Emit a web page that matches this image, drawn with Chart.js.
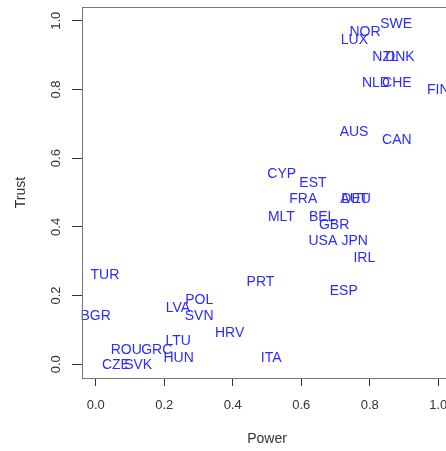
<!DOCTYPE html>
<html>
<head>
<meta charset="utf-8">
<script src="https://cdn.jsdelivr.net/npm/chart.js@4.4.0/dist/chart.umd.min.js"></script>
<style>
  html, body { margin: 0; padding: 0; background: #fff; overflow: hidden; }
  #wrap { width: 460px; height: 451px; }
</style>
</head>
<body>
<div id="wrap"><canvas id="plot" width="460" height="451"></canvas></div>
<script>
// Country codes and their power / trust scores
const countries = ["SWE", "NOR", "LUX", "NZL", "DNK", "NLD", "CHE", "FIN", "AUS", "CAN",
                   "CYP", "EST", "FRA", "AUT", "DEU", "MLT", "BEL", "GBR", "USA", "JPN",
                   "IRL", "PRT", "ESP", "TUR", "BGR", "POL", "LVA", "SVN", "HRV", "LTU",
                   "ROU", "GRC", "HUN", "ITA", "CZE", "SVK"];
const power = [0.877, 0.786, 0.755, 0.846, 0.888, 0.818, 0.879, 1.000, 0.754, 0.879,
               0.543, 0.634, 0.606, 0.755, 0.760, 0.542, 0.661, 0.696, 0.663, 0.756,
               0.784, 0.481, 0.724, 0.027, 0.000, 0.302, 0.240, 0.302, 0.391, 0.241,
               0.089, 0.178, 0.242, 0.512, 0.059, 0.124];
const trust = [0.994, 0.971, 0.947, 0.897, 0.897, 0.823, 0.823, 0.801, 0.678, 0.655,
               0.557, 0.531, 0.483, 0.483, 0.483, 0.433, 0.433, 0.408, 0.363, 0.363,
               0.311, 0.241, 0.215, 0.264, 0.143, 0.191, 0.166, 0.143, 0.093, 0.070,
               0.045, 0.045, 0.020, 0.020, 0.000, 0.000];
const tickValues = [0, 0.2, 0.4, 0.6, 0.8, 1.0];

const FONT = "'Liberation Sans', Arial, sans-serif";
const points = countries.map((c, i) => ({ x: power[i], y: trust[i] }));

// Country code written at each point, centred like R's text()
const codeLabels = {
    id: 'codeLabels',
    afterDatasetsDraw(chart) {
        const ctx = chart.ctx;
        const meta = chart.getDatasetMeta(0);
        ctx.save();
        ctx.font = '14px ' + FONT;
        ctx.fillStyle = '#2b2bff';
        ctx.textAlign = 'center';
        ctx.textBaseline = 'alphabetic';
        meta.data.forEach((el, i) => {
            ctx.fillText(countries[i], el.x, el.y + 5);
        });
        ctx.restore();
    }
};

// Plot frame and the rotated y tick labels
const frame = {
    id: 'frame',
    afterDraw(chart) {
        const ctx = chart.ctx;
        const a = chart.chartArea;
        const ys = chart.scales.y;
        ctx.save();
        ctx.strokeStyle = '#777';
        ctx.lineWidth = 1;
        ctx.strokeRect(a.left + 0.5, a.top + 0.5, a.right - a.left, a.bottom - a.top);
        ctx.font = '13px ' + FONT;
        ctx.fillStyle = '#333';
        ctx.textAlign = 'center';
        ctx.textBaseline = 'middle';
        tickValues.forEach(v => {
            const py = ys.getPixelForValue(v);
            ctx.save();
            ctx.translate(56, py);
            ctx.rotate(-Math.PI / 2);
            ctx.fillText(v.toFixed(1), 0, 0);
            ctx.restore();
        });
        ctx.restore();
    }
};

new Chart(document.getElementById('plot'), {
    type: 'scatter',
    data: {
        datasets: [{
            data: points,
            pointRadius: 0,
            pointHoverRadius: 0
        }]
    },
    options: {
        responsive: false,
        animation: false,
        devicePixelRatio: 1,
        layout: { padding: { top: 7, right: 8, left: 0, bottom: 0 } },
        plugins: { legend: { display: false }, tooltip: { enabled: false } },
        scales: {
            x: {
                type: 'linear',
                min: -0.04,
                max: 1.04,
                afterBuildTicks: s => { s.ticks = tickValues.map(v => ({ value: v })); },
                afterFit: s => { s.height = 73; },
                border: { display: false },
                grid: { drawOnChartArea: false, drawTicks: true, tickLength: 8, tickColor: '#333' },
                ticks: {
                    padding: 12,
                    color: '#333',
                    font: { family: FONT, size: 13 },
                    maxRotation: 0,
                    callback: v => v.toFixed(1)
                },
                title: {
                    display: true,
                    text: 'Power',
                    color: '#333',
                    font: { family: FONT, size: 14 },
                    padding: { top: 0, bottom: 3 }
                }
            },
            y: {
                type: 'linear',
                min: -0.04,
                max: 1.04,
                afterBuildTicks: s => { s.ticks = tickValues.map(v => ({ value: v })); },
                afterFit: s => { s.width = 82; },
                border: { display: false },
                grid: { drawOnChartArea: false, drawTicks: true, tickLength: 10, tickColor: '#333' },
                ticks: { display: false },
                title: {
                    display: true,
                    text: 'Trust',
                    color: '#333',
                    font: { family: FONT, size: 14 },
                    padding: { top: 13, bottom: 0 }
                }
            }
        }
    },
    plugins: [codeLabels, frame]
});
</script>
</body>
</html>
